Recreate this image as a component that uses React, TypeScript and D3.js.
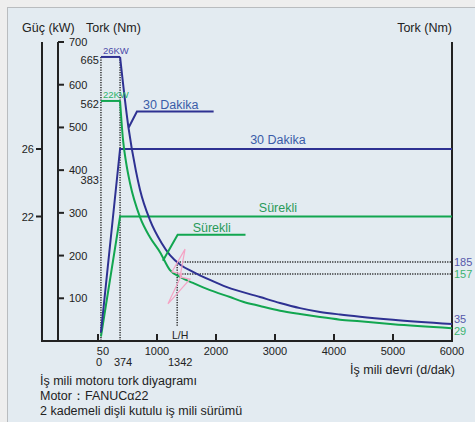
import * as d3 from 'd3'

// devir (d/dak) ve tork (Nm) okumaları
const blueRpm = [50, 374, 514, 640, 712, 881, 1080, 1220, 1400, 1610, 1898, 2186, 2746, 3085, 3424, 3763, 4102, 4441, 5000, 6000]
const blueTorque = [665, 665, 502, 400, 354, 283, 229, 201, 178, 162, 143, 126, 103, 89, 77, 68, 62, 57, 50, 40]
const greenRpm = [50, 374, 424, 475, 542, 712, 881, 1051, 1220, 1390, 1610, 1898, 2237, 2458, 2746, 3085, 3424, 3763, 4102, 4441, 5000, 6000]
const greenTorque = [562, 562, 471, 419, 370, 290, 243, 208, 166, 150, 136, 119, 103, 92, 82, 71, 63, 56, 50, 46, 39, 30]

// güç (kW)
const bluePowerRpm = [50, 374, 6000]
const bluePowerKw = [1.5, 26, 26]
const greenPowerRpm = [50, 374, 6000]
const greenPowerKw = [0.8, 22, 22]

const torqueTicks = [100, 200, 300, 400, 500, 600, 700]
const powerTicks = [22, 26]
const rpmTicks = [0, 1000, 2000, 3000, 4000, 5000]
const rpmLabelsTop = [50, 1000, 2000, 3000, 4000, 5000, 6000]
const rpmLabelsBottom = [0, 374, 1342]
const leftTorqueMarks = [665, 562, 383]
const lhRpm = 1342
const lhTorques = [185, 157]
const endLabels = ['35', '29']

const notes = [
  'İş mili motoru tork diyagramı',
  'Motor：FANUCα22',
  '2 kademeli dişli kutulu iş mili sürümü',
]

const BLUE = '#2e3192'
const GREEN = '#12a650'
const FONT = '"Liberation Sans", Arial, sans-serif'

export default function App() {
  const width = 475
  const height = 422
  const x = d3.scaleLinear([0, 6000], [98, 452])
  const y = d3.scaleLinear([0, 700], [341, 42])
  const p = d3.scaleLinear([0, 22, 26], [341, 216.5, 149])
  const gucX = 42
  const torkX = 58
  const rightX = x(6000)
  const bottomY = y(0)
  const topY = y(700)

  // düz kısım çizgi, düşen kısım yumuşak eğri
  const torquePaths = (rpm: number[], t: number[]) => {
    const pts = rpm.map((r, i) => [x(r), y(t[i])] as [number, number])
    const flat = d3.line()(pts.slice(0, 2)) || undefined
    const fall = d3.line().curve(d3.curveMonotoneX)(pts.slice(1)) || undefined
    return [flat, fall]
  }
  const powerLine = (rpm: number[], kw: number[]) =>
    d3
      .line<number>()
      .x((_, i) => x(rpm[i]))
      .y((d) => p(d))(kw) || undefined

  const dots = { stroke: '#222', strokeWidth: 1.4, strokeDasharray: '1.2,1.3' }
  const pt = (r: number, t: number) => `${x(r)},${y(t)}`

  // ok işaretleri ve şimşek (devir, tork)
  const dakikaLeader = [[520, 500], [660, 537], [1960, 537]]
  const surekliLeader = [[1100, 188], [1350, 249], [2500, 249]]
  const bolt = [[1475, 215], [1254, 162], [1424, 157], [1186, 87], [1559, 145], [1390, 150]]

  return (
    <svg
      width={width}
      height={height}
      style={{ position: 'absolute', left: 0, top: 0 }}
      fontFamily={FONT}
    >
      <rect width={width} height={height} fill="#eeeeee" />
      <rect x={7.5} y={7.5} width={width} height={height} fill="#e3ebf1" stroke="#b9bcbf" />

      <text x={22} y={32} fontSize={12.5} fill="#222">Güç (kW)</text>
      <text x={86} y={32} fontSize={12.5} fill="#222">Tork (Nm)</text>
      <text x={rightX} y={32} fontSize={12.5} fill="#222" textAnchor="end">Tork (Nm)</text>

      {/* dotted guides */}
      <line x1={x(50)} x2={x(50)} y1={y(665)} y2={bottomY} {...dots} />
      <line x1={x(374)} x2={x(374)} y1={y(665)} y2={bottomY} {...dots} />
      <line x1={x(lhRpm)} x2={x(lhRpm)} y1={y(lhTorques[0])} y2={y(35)} {...dots} />
      {lhTorques.map((t) => (
        <line key={t} x1={x(lhRpm)} x2={rightX} y1={y(t)} y2={y(t)} {...dots} />
      ))}

      {/* axes */}
      <line x1={gucX} x2={gucX} y1={topY} y2={bottomY} stroke="#222" strokeWidth={2} />
      <line x1={torkX} x2={torkX} y1={topY} y2={bottomY} stroke="#222" strokeWidth={2} />
      <line x1={rightX} x2={rightX} y1={topY} y2={bottomY} stroke="#222" strokeWidth={2} />
      <line x1={gucX - 1} x2={rightX + 1} y1={bottomY} y2={bottomY} stroke="#222" strokeWidth={2} />
      {torqueTicks.map((t) => (
        <g key={t}>
          <line x1={torkX} x2={torkX + 6} y1={y(t)} y2={y(t)} stroke="#222" strokeWidth={2} />
          <text x={torkX + 11} y={y(t) + 4} fontSize={11} fill="#222">{t}</text>
        </g>
      ))}
      {powerTicks.map((k) => (
        <g key={k}>
          <line x1={gucX - 6} x2={gucX} y1={p(k)} y2={p(k)} stroke="#222" strokeWidth={2} />
          <text x={gucX - 8} y={p(k) + 4} fontSize={11} fill="#222" textAnchor="end">{k}</text>
        </g>
      ))}
      {rpmTicks.map((r) => (
        <line key={r} x1={x(r)} x2={x(r)} y1={bottomY - 7} y2={bottomY} stroke="#222" strokeWidth={2} />
      ))}
      {rpmLabelsTop.map((r) => (
        <text key={r} x={x(r) + (r === 50 ? 2 : 0)} y={bottomY + 14} fontSize={11} fill="#222" textAnchor="middle">{r}</text>
      ))}
      {rpmLabelsBottom.map((r) => (
        <text key={r} x={x(r) + (r === 0 ? 1 : 3)} y={bottomY + 25} fontSize={11} fill="#222" textAnchor="middle">{r}</text>
      ))}
      <text x={x(lhRpm) + 3} y={bottomY - 2} fontSize={10.5} fill="#222" textAnchor="middle">L/H</text>
      {leftTorqueMarks.map((t) => (
        <text key={t} x={x(50) - 2} y={y(t) + 7} fontSize={11} fill="#222" textAnchor="end">{t}</text>
      ))}
      <text x={rightX + 2} y={y(lhTorques[0]) + 4} fontSize={11} fill="#5558aa">{lhTorques[0]}</text>
      <text x={rightX + 2} y={y(lhTorques[1]) + 4} fontSize={11} fill="#3cb371">{lhTorques[1]}</text>
      <text x={rightX + 2} y={y(blueTorque[blueTorque.length - 1]) - 1} fontSize={11} fill="#5558aa">{endLabels[0]}</text>
      <text x={rightX + 2} y={y(greenTorque[greenTorque.length - 1]) + 7} fontSize={11} fill="#3cb371">{endLabels[1]}</text>

      {/* power lines */}
      <path d={powerLine(greenPowerRpm, greenPowerKw)} fill="none" stroke={GREEN} strokeWidth={2} />
      <path d={powerLine(bluePowerRpm, bluePowerKw)} fill="none" stroke={BLUE} strokeWidth={2} />
      {/* torque curves */}
      {torquePaths(greenRpm, greenTorque).map((d, i) => (
        <path key={'g' + i} d={d} fill="none" stroke={GREEN} strokeWidth={2} />
      ))}
      {torquePaths(blueRpm, blueTorque).map((d, i) => (
        <path key={'b' + i} d={d} fill="none" stroke={BLUE} strokeWidth={2} />
      ))}

      <text x={x(50) + 2} y={y(665) - 3} fontSize={9.5} fill="#4a4aa8">26KW</text>
      <text x={x(50) + 2} y={y(562) - 3} fontSize={9.5} fill="#2db36a">22KW</text>

      {/* callouts */}
      <polyline points={dakikaLeader.map((d) => pt(d[0], d[1])).join(' ')} fill="none" stroke={BLUE} strokeWidth={2} />
      <text x={x(dakikaLeader[1][0]) + 6} y={y(dakikaLeader[1][1]) - 3} fontSize={12.5} fill="#3a5ca8">30 Dakika</text>
      <text x={x(3050)} y={p(26) - 5} fontSize={12.5} fill="#3a5ca8" textAnchor="middle">30 Dakika</text>
      <polyline points={surekliLeader.map((d) => pt(d[0], d[1])).join(' ')} fill="none" stroke={GREEN} strokeWidth={2} />
      <text x={x(surekliLeader[1][0]) + 15} y={y(surekliLeader[1][1]) - 3} fontSize={12.5} fill="#2a9a5a">Sürekli</text>
      <text x={x(3050)} y={p(22) - 5} fontSize={12.5} fill="#2a9a5a" textAnchor="middle">Sürekli</text>

      <polygon points={bolt.map((d) => pt(d[0], d[1])).join(' ')} fill="none" stroke="#f5a3c4" strokeWidth={1.2} />

      <text x={rightX + 3} y={bottomY + 33} fontSize={12.5} fill="#222" textAnchor="end">İş mili devri (d/dak)</text>
      {notes.map((n, i) => (
        <text key={n} x={40} y={385 + i * 15} fontSize={12.5} fill="#222">{n}</text>
      ))}
    </svg>
  )
}
